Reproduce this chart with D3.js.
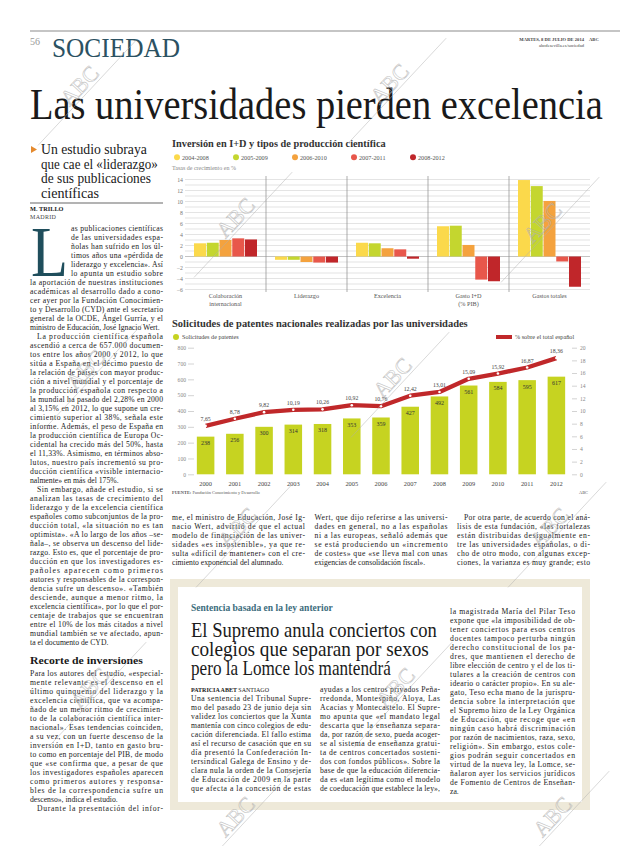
<!DOCTYPE html>
<html><head><meta charset="utf-8">
<script src="https://cdn.jsdelivr.net/npm/d3@7"></script>
<style>
body{margin:0;background:#fff}
svg{display:block}
text{font-family:"Liberation Serif","Times New Roman",serif}
</style>
</head><body>
<svg id="page" width="620" height="846"></svg>
<script>
// ---------- DATA ----------
const invCategories = ["Colaboración\ninternacional", "Liderazgo", "Excelencia", "Gasto I+D\n(% PIB)", "Gastos totales"];
const invPeriods = ["2004-2008", "2005-2009", "2006-2010", "2007-2011", "2008-2012"];
const inv2004_2008 = [2.4, -0.6, 2.5, 5.5, 13.9];
const inv2005_2009 = [2.5, -0.6, 2.4, 5.6, 12.8];
const inv2006_2010 = [3.0, -1.0, 1.5, 2.1, 10.1];
const inv2007_2011 = [3.3, -1.1, 1.3, -4.2, -0.9];
const inv2008_2012 = [3.1, -1.1, -0.4, -4.5, -5.5];
const invTicks = [14, 12, 10, 8, 6, 4, 2, 0, -2, -4, -6];

const patentYears = ["2000","2001","2002","2003","2004","2005","2006","2007","2008","2009","2010","2011","2012"];
const patentApplications = [238, 256, 300, 314, 318, 353, 359, 427, 492, 561, 584, 595, 617];
const patentShare = [7.65, 8.78, 9.82, 10.19, 10.26, 10.92, 10.76, 12.42, 13.01, 15.09, 15.92, 16.87, 18.36];
const patentLeftTicks = [0, 100, 200, 300, 400, 500, 600, 700, 800];
const patentRightTicks = [0, 2, 4, 6, 8, 10, 12, 14, 16, 18, 20];

// ---------- STYLE ----------
const periodColors = ["#fbd94b", "#c4d62f", "#f4a23e", "#e8574b", "#c0262a"];
const barGreen = "#c6d321";
const lineRed = "#c0282a";
const ink = "#1a1a1a";

const svg = d3.select("#page");
svg.append("rect").attr("width", 620).attr("height", 846).attr("fill", "#fff");

// condensed text: scale horizontally to an exact width
function fitText(str, x, y, size, width, attrs = {}) {
  const t = svg.append("text").attr("x", 0).attr("y", 0).attr("font-size", size).text(str);
  Object.entries(attrs).forEach(([k, v]) => t.attr(k, v));
  const w = t.node().getComputedTextLength();
  t.attr("transform", `translate(${x},${y}) scale(${width / w},1)`);
  return t;
}

// ---------- HEADER ----------
svg.append("line").attr("x1", 30).attr("x2", 620).attr("y1", 31).attr("y2", 31).attr("stroke", "#8c8c8c").attr("stroke-width", 1.2);
svg.append("text").attr("x", 30).attr("y", 45).attr("font-size", 10).attr("fill", "#999").text("56");
fitText("SOCIEDAD", 52, 57, 28, 128, { fill: "#2b5162" });
svg.append("text").attr("x", 584).attr("y", 41).attr("font-size", 4.6).attr("font-weight", "bold").attr("fill", "#444")
  .attr("text-anchor", "end").text("MARTES, 8 DE JULIO DE 2014");
svg.append("text").attr("x", 589).attr("y", 41).attr("font-size", 4.6).attr("font-weight", "bold").attr("fill", "#444").text("ABC");
svg.append("text").attr("x", 584).attr("y", 47).attr("font-size", 4.6).attr("fill", "#444")
  .attr("text-anchor", "end").text("abcdesevilla.es/sociedad");
fitText("Las universidades pierden excelencia", 30, 119, 44, 573, { fill: "#1a1a1a" });

// ---------- TEXT HELPERS ----------
const bodySize = 7.7, lh = 9;
function column(lines, x, y0, width, indent = 7) {
  let y = y0;
  lines.forEach(raw => {
    let s = raw, ind = 0, just = true;
    if (s.startsWith("¶")) { s = s.slice(1); ind = indent; }
    if (s.endsWith("⏎")) { s = s.slice(0, -1); just = false; }
    const t = svg.append("text").attr("x", x + ind).attr("y", y).attr("font-size", bodySize).attr("fill", ink).text(s);
    if (just) t.attr("textLength", width - ind).attr("lengthAdjust", "spacing");
    y += lh;
  });
  return y;
}

// ---------- LEFT COLUMN ----------
svg.append("path").attr("d", "M31,146 L37,149.5 L31,153 Z").attr("fill", "#e58a2e");
const subhead = [["Un estudio subraya", 106], ["que cae el «liderazgo»", 117], ["de sus publicaciones", 110], ["científicas", 58]];
subhead.forEach((d, i) => fitText(d[0], 41, 154 + i * 14.7, 15.5, d[1], { fill: "#1a1a1a" }));
svg.append("line").attr("x1", 30).attr("x2", 163).attr("y1", 203).attr("y2", 203).attr("stroke", "#9a9a9a").attr("stroke-width", 1.6);
svg.append("text").attr("x", 30).attr("y", 211).attr("font-size", 6.3).attr("font-weight", "bold").attr("fill", ink).text("M. TRILLO");
svg.append("text").attr("x", 30).attr("y", 219).attr("font-size", 6).attr("fill", "#444").attr("letter-spacing", 0.3).text("MADRID");
fitText("L", 31, 276, 72, 37, { fill: "#1f4e5c" });

const dropLines = [
  "as publicaciones científicas", "de las universidades espa-", "ñolas han sufrido en los úl-",
  "timos años una «pérdida de", "liderazgo y excelencia». Así", "lo apunta un estudio sobre"];
column(dropLines, 71, 231, 92);
const leftLines = [
  "la aportación de nuestras instituciones", "académicas al desarrollo dado a cono-",
  "cer ayer por la Fundación Conocimien-", "to y Desarrollo (CYD) ante el secretario",
  "general de la OCDE, Ángel Gurría, y el", "ministro de Educación, José Ignacio Wert.⏎",
  "¶La producción científica española", "ascendió a cerca de 657.000 documen-",
  "tos entre los años 2000 y 2012, lo que", "sitúa a España en el décimo puesto de",
  "la relación de países con mayor produc-", "ción a nivel mundial y el porcentaje de",
  "la producción española con respecto a", "la mundial ha pasado del 2,28% en 2000",
  "al 3,15% en 2012, lo que supone un cre-", "cimiento superior al 38%, señala este",
  "informe. Además, el peso de España en", "la producción científica de Europa Oc-",
  "cidental ha crecido más del 50%, hasta", "el 11,33%. Asimismo, en términos abso-",
  "lutos, nuestro país incrementó su pro-", "ducción científica «visible internacio-",
  "nalmente» en más del 175%.⏎",
  "¶Sin embargo, añade el estudio, si se", "analizan las tasas de crecimiento del",
  "liderazgo y de la excelencia científica", "españoles como subconjuntos de la pro-",
  "ducción total, «la situación no es tan", "optimista». «A lo largo de los años –se-",
  "ñala–, se observa un descenso del lide-", "razgo. Esto es, que el porcentaje de pro-",
  "ducción en que los investigadores es-", "pañoles aparecen como primeros",
  "autores y responsables de la correspon-", "dencia sufre un descenso». «También",
  "desciende, aunque a menor ritmo, la", "excelencia científica», por lo que el por-",
  "centaje de trabajos que se encuentran", "entre el 10% de los más citados a nivel",
  "mundial también se ve afectado, apun-", "ta el documento de CYD.⏎"];
column(leftLines, 30, 231 + 6 * lh, 133);
fitText("Recorte de inversiones", 30, 664, 11, 113, { "font-weight": "bold", fill: "#1a1a1a" });
const leftLines2 = [
  "Para los autores del estudio, «especial-", "mente relevante es el descenso en el",
  "último quinquenio del liderazgo y la", "excelencia científica, que va acompa-",
  "ñado de un menor ritmo de crecimien-", "to de la colaboración científica inter-",
  "nacional». Esas tendencias coinciden,", "a su vez, con un fuerte descenso de la",
  "inversión en I+D, tanto en gasto bru-", "to como en porcentaje del PIB, de modo",
  "que «se confirma que, a pesar de que", "los investigadores españoles aparecen",
  "como primeros autores y responsa-", "bles de la correspondencia sufre un",
  "descenso», indica el estudio.⏎", "¶Durante la presentación del infor-"];
column(leftLines2, 30, 676, 133);

// ---------- CHART 1 ----------
fitText("Inversión en I+D y tipos de producción científica", 172, 147, 10.5, 214, { "font-weight": "bold", fill: "#333" });
invPeriods.forEach((p, i) => {
  const lx = 177 + i * 59;
  svg.append("circle").attr("cx", lx).attr("cy", 157.3).attr("r", 3).attr("fill", periodColors[i]);
  svg.append("text").attr("x", lx + 5).attr("y", 159.6).attr("font-size", 6.2).attr("fill", "#555").text(p);
});
svg.append("text").attr("x", 172).attr("y", 170).attr("font-size", 6).attr("fill", "#888").text("Tasas de crecimiento en %");

const yInv = d3.scaleLinear().domain([-6, 14]).range([289.5, 179.5]);
const xGroup = d3.scaleBand().domain(invCategories).range([185, 590]);
const xPer = d3.scaleBand().domain(invPeriods).range([9, 72]).paddingInner(0.06);
const gInv = svg.append("g");
gInv.selectAll("line.grid").data(d3.range(-6, 15)).join("line")
  .attr("x1", 185).attr("x2", 590).attr("y1", d => yInv(d)).attr("y2", d => yInv(d))
  .attr("stroke", d => d === 0 ? "#9a9a9a" : "#d2d2d2").attr("stroke-width", 0.6);
gInv.selectAll("line.sep").data(invCategories.slice(1)).join("line")
  .attr("x1", d => xGroup(d)).attr("x2", d => xGroup(d)).attr("y1", 176).attr("y2", 292)
  .attr("stroke", "#8a8a8a").attr("stroke-width", 0.7);
const invAxis = gInv.append("g").attr("transform", "translate(184,0)")
  .call(d3.axisLeft(yInv).tickValues(invTicks).tickSize(0).tickPadding(1));
invAxis.select(".domain").remove();
invAxis.selectAll("text").attr("font-size", 5.8).attr("fill", "#777").attr("font-family", "Liberation Serif");

const invSeries = [inv2004_2008, inv2005_2009, inv2006_2010, inv2007_2011, inv2008_2012];
const invRows = [];
invCategories.forEach((c, ci) => invPeriods.forEach((p, pi) => invRows.push({ c, p, pi, v: invSeries[pi][ci] })));
gInv.selectAll("rect.bar").data(invRows).join("rect")
  .attr("x", d => xGroup(d.c) + xPer(d.p)).attr("width", xPer.bandwidth())
  .attr("y", d => yInv(Math.max(0, d.v))).attr("height", d => Math.abs(yInv(d.v) - yInv(0)))
  .attr("fill", d => periodColors[d.pi]);
invCategories.forEach(c => {
  c.split("\n").forEach((ln, k) => {
    gInv.append("text").attr("x", xGroup(c) + xGroup.bandwidth() / 2).attr("y", 298 + k * 7.5)
      .attr("text-anchor", "middle").attr("font-size", 6.2).attr("fill", "#555").text(ln);
  });
});

// ---------- CHART 2 ----------
fitText("Solicitudes de patentes nacionales realizadas por las universidades", 172, 327, 10.5, 296, { "font-weight": "bold", fill: "#333" });
svg.append("circle").attr("cx", 176).attr("cy", 337).attr("r", 3).attr("fill", barGreen);
svg.append("text").attr("x", 182).attr("y", 339.3).attr("font-size", 6.2).attr("fill", "#444").text("Solicitudes de patentes");
svg.append("line").attr("x1", 496).attr("x2", 512).attr("y1", 337).attr("y2", 337).attr("stroke", lineRed).attr("stroke-width", 4);
svg.append("text").attr("x", 515).attr("y", 339.3).attr("font-size", 6.2).attr("fill", "#444").text("% sobre el total español");

const xP = d3.scaleBand().domain(patentYears).range([191, 571]).paddingInner(0.4).paddingOuter(0.2);
const yL = d3.scaleLinear().domain([0, 800]).range([474.3, 347.7]);
const yR = d3.scaleLinear().domain([0, 20]).range([474.3, 347.7]);
const gP = svg.append("g");
const axL = gP.append("g").attr("transform", "translate(194,0)")
  .call(d3.axisLeft(yL).tickValues(patentLeftTicks).tickSize(6).tickPadding(2));
const axR = gP.append("g").attr("transform", "translate(572,0)")
  .call(d3.axisRight(yR).tickValues(patentRightTicks).tickSize(5).tickPadding(3));
[axL, axR].forEach(a => {
  a.select(".domain").remove();
  a.selectAll("line").attr("stroke", "#b5b5b5").attr("stroke-width", 0.6);
  a.selectAll("text").attr("font-size", 5.6).attr("fill", "#888").attr("font-family", "Liberation Serif");
});
gP.selectAll("rect.pbar").data(patentYears).join("rect")
  .attr("x", d => xP(d)).attr("width", xP.bandwidth())
  .attr("y", (d, i) => yL(patentApplications[i])).attr("height", (d, i) => yL(0) - yL(patentApplications[i]))
  .attr("fill", barGreen);
gP.selectAll("text.blab").data(patentYears).join("text")
  .attr("x", d => xP(d) + xP.bandwidth() / 2).attr("y", (d, i) => yL(patentApplications[i]) + 8.5)
  .attr("text-anchor", "middle").attr("font-size", 6).attr("fill", "#333").text((d, i) => patentApplications[i]);
const line = d3.line().x(d => xP(d.y) + xP.bandwidth() / 2).y(d => yR(d.v)).curve(d3.curveLinear);
const shareRows = patentYears.map((y, i) => ({ y, v: patentShare[i] }));
gP.append("path").datum(shareRows).attr("d", line).attr("fill", "none").attr("stroke", lineRed)
  .attr("stroke-width", 4.3).attr("stroke-linejoin", "round");
gP.selectAll("circle.m").data(shareRows).join("circle")
  .attr("cx", d => xP(d.y) + xP.bandwidth() / 2).attr("cy", d => yR(d.v)).attr("r", 1.3).attr("fill", "#fff");
gP.selectAll("text.vlab").data(shareRows).join("text")
  .attr("x", d => xP(d.y) + xP.bandwidth() / 2).attr("y", d => yR(d.v) - 5)
  .attr("text-anchor", "middle").attr("font-size", 5.8).attr("fill", "#444")
  .text(d => d.v.toFixed(2).replace(".", ","));
const axX = gP.append("g").attr("transform", "translate(0,474.3)").call(d3.axisBottom(xP).tickSize(0).tickPadding(7));
axX.select(".domain").remove();
axX.selectAll("text").attr("font-size", 6.4).attr("fill", "#444").attr("font-family", "Liberation Serif");
const src = svg.append("text").attr("x", 172).attr("y", 494).attr("font-size", 4.4).attr("fill", "#555");
src.append("tspan").attr("font-weight", "bold").text("FUENTE: ");
src.append("tspan").text("Fundación Conocimiento y Desarrollo");
svg.append("text").attr("x", 588).attr("y", 494).attr("font-size", 4.4).attr("fill", "#555").attr("text-anchor", "end").text("ABC");

// ---------- MIDDLE TEXT ----------
const midCol1 = [
  "me, el ministro de Educación, José Ig-", "nacio Wert, advirtió de que el actual",
  "modelo de financiación de las univer-", "sidades «es insostenible», ya que re-",
  "sulta «difícil de mantener» con el cre-", "cimiento exponencial del alumnado.⏎"];
const midCol2 = [
  "Wert, que dijo referirse a las universi-", "dades en general, no a las españolas",
  "ni a las europeas, señaló además que", "se está produciendo un «incremento",
  "de costes» que «se lleva mal con unas", "exigencias de consolidación fiscal».⏎"];
const midCol3 = [
  "¶Por otra parte, de acuerdo con el aná-", "lisis de esta fundación, «las fortalezas",
  "están distribuidas desigualmente en-", "tre las universidades españolas, o di-",
  "cho de otro modo, con algunas excep-", "ciones, la varianza es muy grande; esto"];
column(midCol1, 172, 520, 133);
column(midCol2, 314.5, 520, 133);
column(midCol3, 457, 520, 133);

// ---------- BOX ----------
svg.append("rect").attr("x", 170).attr("y", 579).attr("width", 420).attr("height", 231).attr("fill", "#eee9d9");
svg.append("rect").attr("x", 178).attr("y", 587).attr("width", 404).attr("height", 215).attr("fill", "#fff");
fitText("Sentencia basada en la ley anterior", 191, 611, 10.5, 142, { "font-weight": "bold", fill: "#3d6d7d" });
[["El Supremo anula conciertos con", 246], ["colegios que separan por sexos", 238], ["pero la Lomce los mantendrá", 200]].forEach((d, i) => {
  fitText(d[0], 191, 637 + i * 19, 22, d[1], { fill: "#1a1a1a" });
});
const by = svg.append("text").attr("x", 191).attr("y", 692).attr("font-size", 6).attr("fill", ink);
by.append("tspan").attr("font-weight", "bold").text("PATRICIA ABET ");
by.append("tspan").text("SANTIAGO");
const boxCol1 = [
  "Una sentencia del Tribunal Supre-", "mo del pasado 23 de junio deja sin",
  "validez los conciertos que la Xunta", "mantenía con cinco colegios de edu-",
  "cación diferenciada. El fallo estima", "así el recurso de casación que en su",
  "día presentó la Confederación In-", "tersindical Galega de Ensino y de-",
  "clara nula la orden de la Consejería", "de Educación de 2009 en la parte",
  "que afecta a la concesión de estas"];
const boxCol2 = [
  "ayudas a los centros privados Peña-", "rredonda, Montespiño, Aloya, Las",
  "Acacias y Montecastelo. El Supre-", "mo apunta que «el mandato legal",
  "descarta que la enseñanza separa-", "da, por razón de sexo, pueda acoger-",
  "se al sistema de enseñanza gratui-", "ta de centros concertados sosteni-",
  "dos con fondos públicos». Sobre la", "base de que la educación diferencia-",
  "da es «tan legítima como el modelo", "de coeducación que establece la ley»,"];
const boxCol3 = [
  "la magistrada María del Pilar Teso", "expone que «la imposibilidad de ob-",
  "tener conciertos para esos centros", "docentes tampoco perturba ningún",
  "derecho constitucional de los pa-", "dres, que mantienen el derecho de",
  "libre elección de centro y el de los ti-", "tulares a la creación de centros con",
  "ideario o carácter propio». En su ale-", "gato, Teso echa mano de la jurispru-",
  "dencia sobre la interpretación que", "el Supremo hizo de la Ley Orgánica",
  "de Educación, que recoge que «en", "ningún caso habrá discriminación",
  "por razón de nacimientos, raza, sexo,", "religión». Sin embargo, estos cole-",
  "gios podrán seguir concertados en", "virtud de la nueva ley, la Lomce, se-",
  "ñalaron ayer los servicios jurídicos", "de Fomento de Centros de Enseñan-", "za.⏎"];
column(boxCol1, 191, 701, 120);
column(boxCol2, 320, 692, 120);
column(boxCol3, 450, 614, 125);

// ---------- WATERMARKS ----------
function watermark(cx, cy) {
  const g = svg.append("g").attr("transform", `translate(${cx},${cy}) rotate(-47)`).attr("opacity", 0.75);
  g.append("line").attr("x1", -72).attr("x2", 72).attr("y1", 7).attr("y2", 7).attr("stroke", "#b0b0b0").attr("stroke-width", 0.6);
  g.append("text").attr("text-anchor", "middle").attr("y", 4).attr("font-size", 22)
    .attr("fill", "none").attr("stroke", "#b0b0b0").attr("stroke-width", 0.6).text("ABC");
}
[[82, 88], [392, 86], [238, 220], [545, 225], [88, 372], [395, 380], [240, 530], [552, 530], [92, 690], [398, 690], [238, 819], [555, 819]]
  .forEach(p => watermark(p[0], p[1]));
</script>
</body></html>
